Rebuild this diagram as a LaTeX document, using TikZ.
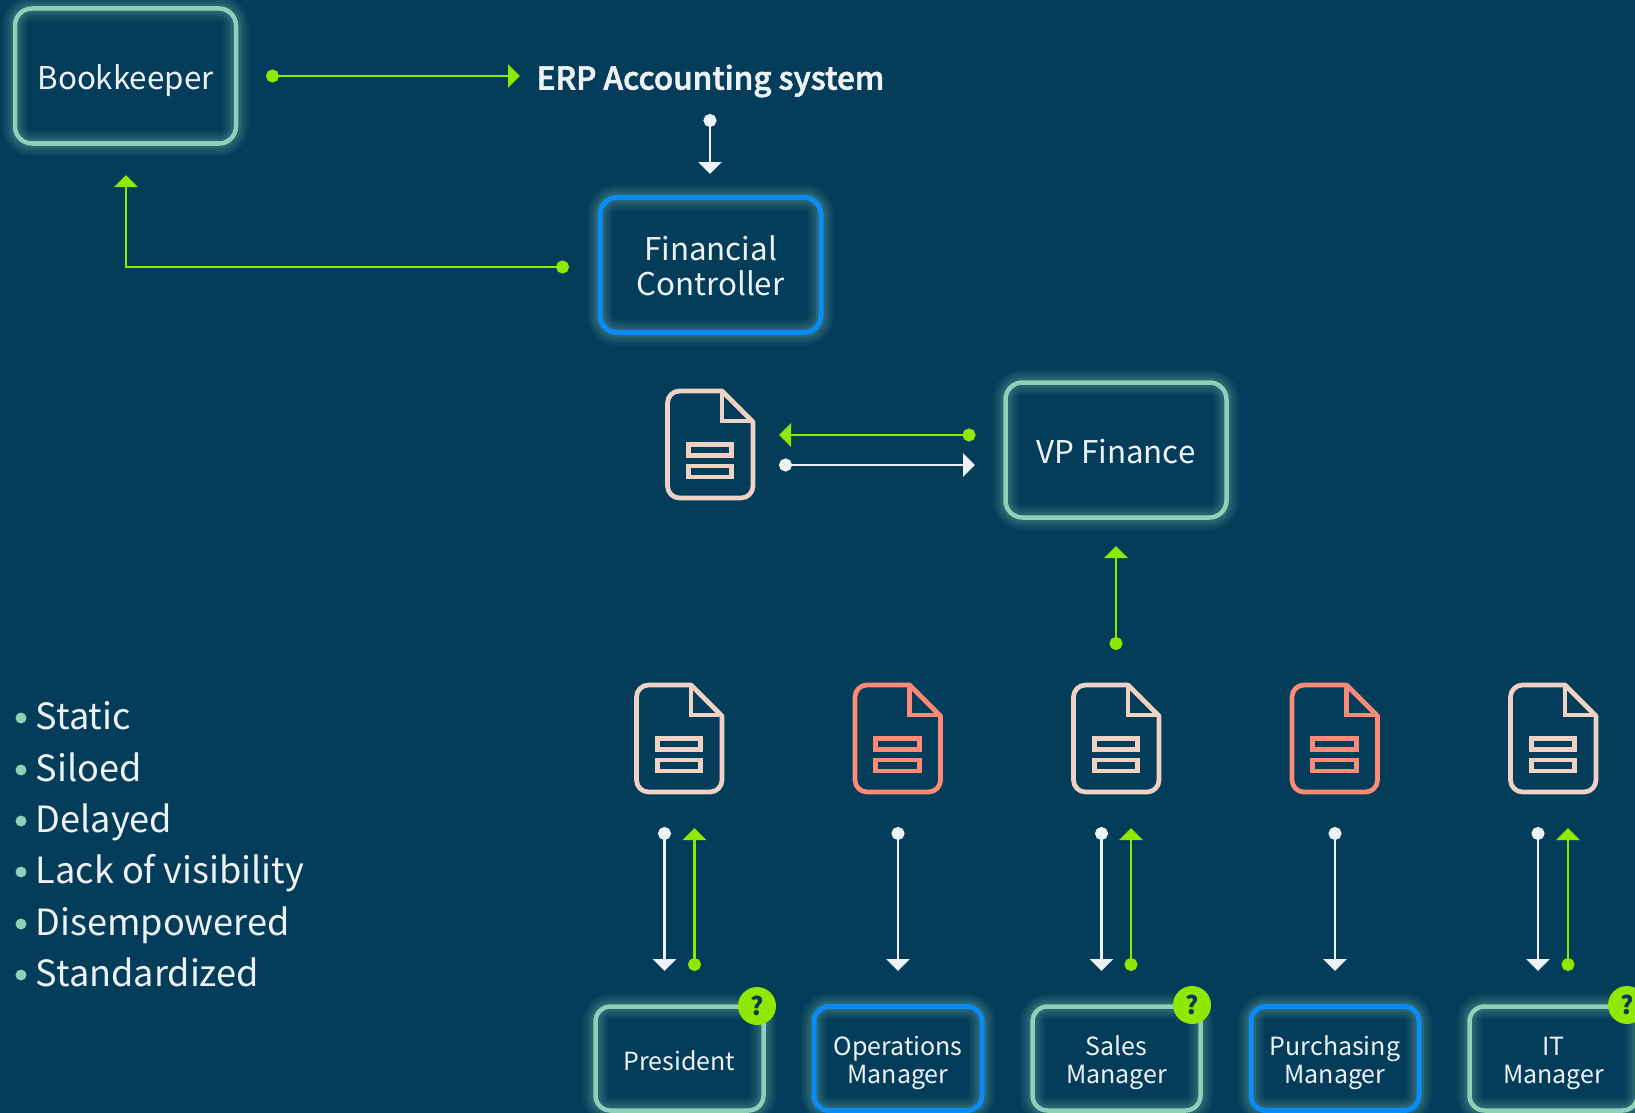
\documentclass[tikz,border=0pt]{standalone}
\usepackage{fontspec}
\setmainfont{Noto Sans CJK SC}
\newfontfamily\semibold{Noto Sans CJK SC Medium}
\usetikzlibrary{arrows.meta}
\definecolor{bgc}{HTML}{043D59}
\definecolor{mint}{HTML}{8FD1B6}
\definecolor{skyb}{HTML}{0A8CF7}
\definecolor{lime}{HTML}{8EE800}
\definecolor{paper}{HTML}{EEF2F7}
\definecolor{peach}{HTML}{F0D2C4}
\definecolor{salmon}{HTML}{FF8A75}
\tikzset{
  halo/.style={
    preaction={draw=#1,line width=26pt,draw opacity=.045},
    preaction={draw=#1,line width=22pt,draw opacity=.05},
    preaction={draw=#1,line width=18pt,draw opacity=.06},
    preaction={draw=#1,line width=14pt,draw opacity=.07},
    preaction={draw=#1,line width=10pt,draw opacity=.09}},
  rolebox/.style={rectangle,rounded corners=17pt,outer sep=0pt,inner sep=0pt,minimum width=221pt,minimum height=135pt},
  mintbox/.style={rolebox,draw=mint,line width=4.5pt,halo=mint},
  bluebox/.style={rolebox,draw=skyb,line width=5pt,halo=mint},
  smallbox/.style={rounded corners=15pt,minimum width=168pt,minimum height=104pt},
  bigcap/.style={align=center,inner sep=0pt,text=paper,font=\fontsize{31.3}{35}\selectfont},
  smallcap/.style={align=center,inner sep=0pt,text=paper,font=\fontsize{25}{28}\selectfont},
  badge/.style={circle,fill=lime,minimum size=38pt,inner sep=0pt,text=bgc,font=\fontsize{25}{25}\selectfont\bfseries},
  tick/.style={circle,fill=mint,minimum size=11pt,inner sep=0pt},
  itemtext/.style={anchor=base west,inner sep=0pt,text=paper,font=\fontsize{36.1}{38}\selectfont},
  flow/.style={line width=2.8pt,{Circle[length=13pt]}-{Triangle[length=12pt,width=23pt]}},
  gflow/.style={flow,draw=lime,color=lime},
  wflow/.style={flow,draw=paper,color=paper},
  pics/docicon/.style={code={
    \draw[#1,line width=4.7pt,line join=round]
      (54.5,0) -- (85.5,31) -- (85.5,95) arc[start angle=0,end angle=90,radius=12]
      -- (12,107) arc[start angle=90,end angle=180,radius=12]
      -- (0,12) arc[start angle=180,end angle=270,radius=12] -- cycle;
    \draw[#1,line width=4.7pt,line join=miter] (54.5,0) -- (54.5,30) -- (85.5,30);
    \draw[#1,line width=4.7pt] (20.7,53.6) rectangle (64.3,64.6);
    \draw[#1,line width=4.7pt] (20.7,75) rectangle (64.3,86);
  }}
}
\begin{document}
\begin{tikzpicture}[x=1pt,y=-1pt]
\useasboundingbox (0,0) rectangle (1635,1113);
\clip (0,0) rectangle (1635,1113);
\fill[bgc] (0,0) rectangle (1635,1113);
% upper boxes
\node[mintbox] (book) at (125.5,76) {};
\node[bigcap] (bookt) at (125.5,80.5) {Bookkeeper};
\node[bluebox] (fc) at (710.5,265) {};
\node[bigcap] (fct) at (710.5,265.5) {Financial\\Controller};
\node[mintbox] (vp) at (1116,450) {};
\node[bigcap] (vpt) at (1116,452) {VP Finance};
\node[anchor=west,inner sep=0pt,text=paper,font=\fontsize{31.4}{35}\selectfont\semibold] (erp) at (536.5,81) {\special{pdf:code 0.6 w 2 Tr}ERP Accounting system\special{pdf:code 0 Tr}};
% lower boxes
\node[mintbox,smallbox] (pres) at (679.5,1058.5) {};
\node[bluebox,smallbox] (ops) at (898,1058.5) {};
\node[mintbox,smallbox] (sales) at (1116.5,1058.5) {};
\node[bluebox,smallbox] (purch) at (1335,1058.5) {};
\node[mintbox,smallbox] (itm) at (1553.5,1058.5) {};
\node[smallcap] (prest) at (679.5,1060.5) {President};
\node[smallcap] (opst) at (898,1062.5) {Operations\\Manager};
\node[smallcap] (salest) at (1116.5,1062.5) {Sales\\Manager};
\node[smallcap] (purcht) at (1335,1062.5) {Purchasing\\Manager};
\node[smallcap] (itmt) at (1553.5,1063.5) {IT\\Manager};
\node[badge] (q1) at (757,1006) {?};
\node[badge] (q2) at (1192,1005) {?};
\node[badge] (q3) at (1627,1005) {?};
% documents
\pic (d0) at (667.5,391) {docicon=peach};
\pic (d1) at (636.5,685) {docicon=peach};
\pic (d2) at (855,685) {docicon=salmon};
\pic (d3) at (1073.5,685) {docicon=peach};
\pic (d4) at (1292,685) {docicon=salmon};
\pic (d5) at (1510.5,685) {docicon=peach};
% connector ends
\coordinate (a1) at (266,76); \coordinate (a2) at (520,76);
\coordinate (b1) at (710,114); \coordinate (b2) at (710,174);
\coordinate (c1) at (569,267); \coordinate (c2) at (126,267); \coordinate (c3) at (126,175);
\coordinate (e1) at (975.5,435); \coordinate (e2) at (779,435);
\coordinate (f1) at (779,465); \coordinate (f2) at (975,465);
\coordinate (g1) at (1116,650); \coordinate (g2) at (1116,546);
\draw[gflow] (a1) -- (a2);
\draw[wflow] (b1) -- (b2);
\draw[gflow] (c1) -- (c2) -- (c3);
\draw[gflow] (e1) -- (e2);
\draw[wflow] (f1) -- (f2);
\draw[gflow] (g1) -- (g2);
\foreach \nm/\wx in {p/664.5,o/898,s/1101.5,u/1335,i/1538}{
  \coordinate (\nm w1) at (\wx,827); \coordinate (\nm w2) at (\wx,971);
  \draw[wflow] (\nm w1) -- (\nm w2);
}
\foreach \nm/\gx in {p/694.5,s/1131,i/1568}{
  \coordinate (\nm g1) at (\gx,971); \coordinate (\nm g2) at (\gx,828);
  \draw[gflow] (\nm g1) -- (\nm g2);
}
% list
\foreach \nm/\yy/\tx in {l1/729.5/Static,l2/781.5/Siloed,l3/832.5/Delayed,l4/883.5/Lack of visibility,l5/935.5/Disempowered,l6/986.5/Standardized}{
  \node[itemtext] (\nm) at (35.5,\yy) {\tx};
  \node[tick] (\nm t) at (21,\yy-11.5) {};
}
\end{tikzpicture}
\end{document}
